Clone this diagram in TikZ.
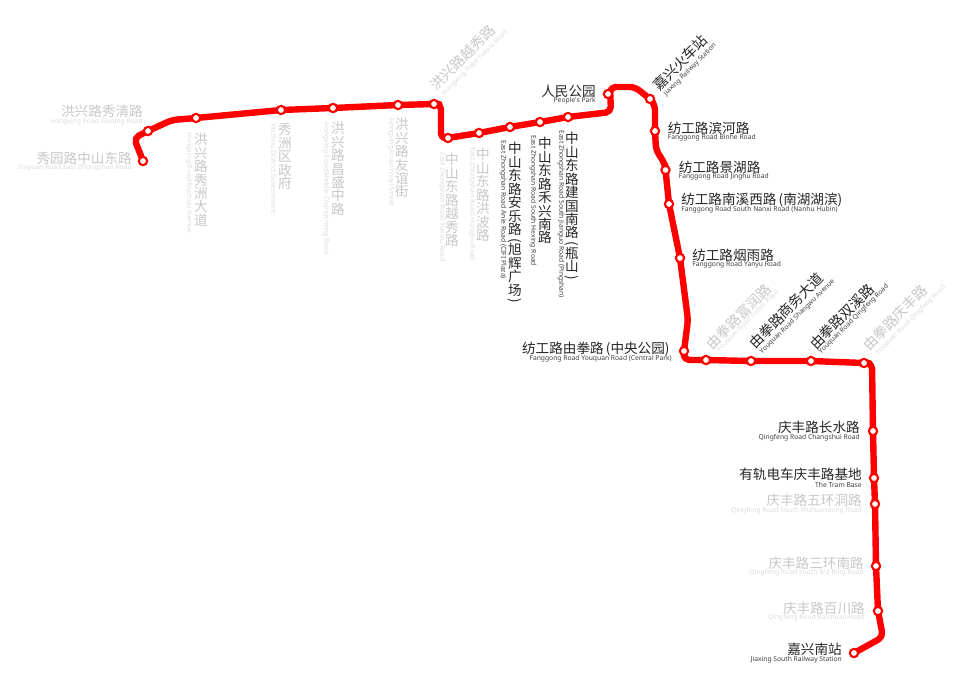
\documentclass[tikz,border=0pt]{standalone}
\usepackage{fontspec}
\setmainfont{Noto Sans CJK SC}
\newfontfamily\enfont{Noto Sans}
\usetikzlibrary{backgrounds}
\definecolor{linered}{HTML}{FF0000}
\tikzstyle{stop}=[circle,fill=white,draw=linered,line width=1.6pt,minimum size=6.2pt,inner sep=0pt]
\tikzstyle{cn}=[inner sep=0pt,font=\fontsize{10.2}{10.2}\selectfont,text=black!85]
\tikzstyle{cnr}=[cn,rotate=45,anchor=west,font=\fontsize{10.6}{10.6}\selectfont]
\tikzstyle{en}=[inner sep=0pt,font=\enfont\fontsize{5.05}{5.5}\selectfont,text=black!75]
\tikzstyle{enr}=[en,rotate=45,anchor=west]
\tikzstyle{cnv}=[cn,align=center,anchor=north,font=\fontsize{10.2}{10.1}\selectfont]
\tikzstyle{env}=[en,rotate=-90,anchor=west]
\tikzstyle{off}=[text=black!22]
\tikzstyle{offen}=[text=black!14]
\newcommand{\lpar}{\makebox[0.5em][r]{(}}
\newcommand{\rpar}{\makebox[0.5em][l]{)}}
\newcommand{\vlpar}{\rotatebox[origin=c]{-90}{(}}
\newcommand{\vrpar}{\rotatebox[origin=c]{-90}{)}}

\begin{document}
\begin{tikzpicture}[x=0.75pt,y=-0.75pt]
	\useasboundingbox (0,0) rectangle (960,686);
	% stations
	\node[stop] (s1) at (143,161) {};
	\node[stop] (s2) at (148,131) {};
	\node[stop] (s3) at (196,118) {};
	\node[stop] (s4) at (281,110) {};
	\node[stop] (s5) at (333,108) {};
	\node[stop] (s6) at (398,105) {};
	\node[stop] (s7) at (434,104) {};
	\node[stop] (s8) at (448,138) {};
	\node[stop] (s9) at (479,133) {};
	\node[stop] (s10) at (510,127) {};
	\node[stop] (s11) at (540,122) {};
	\node[stop] (s12) at (568,117) {};
	\node[stop] (s13) at (608,94) {};
	\node[stop] (s14) at (650,99) {};
	\node[stop] (s15) at (655,131) {};
	\node[stop] (s16) at (665.5,170) {};
	\node[stop] (s17) at (669,204) {};
	\node[stop] (s18) at (680,258) {};
	\node[stop] (s19) at (684,351) {};
	\node[stop] (s20) at (706,360) {};
	\node[stop] (s21) at (751,361) {};
	\node[stop] (s22) at (811,361) {};
	\node[stop] (s23) at (864,363) {};
	\node[stop] (s24) at (873,431) {};
	\node[stop] (s25) at (874,478) {};
	\node[stop] (s26) at (875,504) {};
	\node[stop] (s27) at (876,566) {};
	\node[stop] (s28) at (878,611) {};
	\node[stop] (s29) at (854,653) {};
	% bends of the line
	\coordinate (b1) at (134,138);
	\coordinate (b2) at (172,120);
	\coordinate (b3) at (441,104);
	\coordinate (b4) at (441,139);
	\coordinate (b5) at (611,112);
	\coordinate (b6) at (610,87);
	\coordinate (b7) at (635,87);
	\coordinate (b8) at (655,105);
	\coordinate (b9) at (656,150);
	\coordinate (b10) at (665,164);
	\coordinate (b11) at (688,320);
	\coordinate (b12) at (684,360);
	\coordinate (b13) at (872,363);
	\coordinate (b14) at (883,637);
	\begin{scope}[on background layer]
		\draw[linered,line width=4.8pt,rounded corners=4pt,line join=round] (s1.center) -- (b1) -- (s2.center) -- (b2)
			-- (s3.center) -- (s4.center) -- (s5.center) -- (s6.center) -- (s7.center) -- (b3) -- (b4)
			-- (s9.center) -- (s10.center) -- (s11.center) -- (s12.center) -- (b5) -- (b6) -- (b7)
			-- (s14.center) -- (b8) -- (s15.center) -- (b9) -- (b10) -- (s16.center) -- (s17.center)
			-- (s18.center) -- (b11) -- (s19.center) -- (b12) -- (s20.center) -- (s21.center) -- (s22.center)
			-- (s23.center) -- (b13) -- (s24.center) -- (s25.center) -- (s26.center) -- (s27.center)
			-- (s28.center) -- (b14) -- (s29.center);
	\end{scope}
	% labels, left of the line
	\node[cn,off,anchor=east] (c2) at (143,111) {洪兴路秀清路};
	\node[en,offen,anchor=east] (e2) at (143,122) {Hongxing Road Xiuqing Road};
	\node[cn,off,anchor=east] (c1) at (132,158) {秀园路中山东路};
	\node[en,offen,anchor=east] (e1) at (132,168) {Xiuyuan Road East Zhongshan Road};
	\node[cn,anchor=east] (c13) at (596,91) {人民公园};
	\node[en,anchor=east] (e13) at (596,101) {People's Park};
	\node[cn,anchor=east] (c19) at (672,349) {纺工路由拳路\lpar 中央公园\rpar};
	\node[en,anchor=east] (e19) at (672,359) {Fanggong Road Youquan Road (Central Park)};
	\node[cn,anchor=east] (c24) at (860,427) {庆丰路长水路};
	\node[en,anchor=east] (e24) at (860,438) {Qingfeng Road Changshui Road};
	\node[cn,anchor=east] (c25) at (862,474) {有轨电车庆丰路基地};
	\node[en,anchor=east] (e25) at (862,484.5) {The Tram Base};
	\node[cn,off,anchor=east] (c26) at (862,500) {庆丰路五环洞路};
	\node[en,offen,anchor=east] (e26) at (862,511) {Qingfeng Road South Wuhuandong Road};
	\node[cn,off,anchor=east] (c27) at (864,563) {庆丰路三环南路};
	\node[en,offen,anchor=east] (e27) at (864,573) {Qingfeng Road South 3rd Ring Road};
	\node[cn,off,anchor=east] (c28) at (865,608) {庆丰路百川路};
	\node[en,offen,anchor=east] (e28) at (865,618) {Qingfeng Road Baichuan Road};
	\node[cn,anchor=east] (c29) at (842,649) {嘉兴南站};
	\node[en,anchor=east] (e29) at (842,660) {Jiaxing South Railway Station};
	% labels, right of the line
	\node[cn,anchor=west] (c15) at (667.5,128) {纺工路滨河路};
	\node[en,anchor=west] (e15) at (667.5,138) {Fanggong Road Binhe Road};
	\node[cn,anchor=west] (c16) at (678.5,167) {纺工路景湖路};
	\node[en,anchor=west] (e16) at (678.5,177) {Fanggong Road Jinghu Road};
	\node[cn,anchor=west] (c17) at (681,200) {纺工路南溪西路\lpar 南湖湖滨\rpar};
	\node[en,anchor=west] (e17) at (681,210) {Fanggong Road South Nanxi Road (Nanhu Hubin)};
	\node[cn,anchor=west] (c18) at (692,255) {纺工路烟雨路};
	\node[en,anchor=west] (e18) at (692,265) {Fanggong Road Yanyu Road};
	% labels, upright
	\node[cnv,off] (c3) at (201,133) {洪\\兴\\路\\秀\\洲\\大\\道};
	\node[env,offen] (e3) at (189,132) {Hongxing Road Xiuzhou Avenue};
	\node[cnv,off] (c4) at (285,123) {秀\\洲\\区\\政\\府};
	\node[env,offen] (e4) at (274,123) {Xiuzhou District Government};
	\node[cnv,off] (c5) at (338,122) {洪\\兴\\路\\昌\\盛\\中\\路};
	\node[env,offen] (e5) at (326,122) {Hongxing Road Middle Changsheng Road};
	\node[cnv,off] (c6) at (402,118) {洪\\兴\\路\\友\\谊\\街};
	\node[env,offen] (e6) at (391,118) {Hongxing Road Youyi Street};
	\node[cnv,off] (c8) at (452,153) {中\\山\\东\\路\\越\\秀\\路};
	\node[env,offen] (e8) at (442,152) {East Zhongshan Road Yuexiu Road};
	\node[cnv,off] (c9) at (483,148) {中\\山\\东\\路\\洪\\波\\路};
	\node[env,offen] (e9) at (472,147) {East Zhongshan Road Hongbo Road};
	\node[cnv] (c10) at (515,142) {中\\山\\东\\路\\安\\乐\\路\\[-2.5pt]\vlpar\\[-2.5pt]旭\\辉\\广\\场\\[-2.5pt]\vrpar};
	\node[env] (e10) at (503,140) {East Zhongshan Road Anle Road (CIFI Plaza)};
	\node[cnv] (c11) at (545,137) {中\\山\\东\\路\\禾\\兴\\南\\路};
	\node[env] (e11) at (533,135) {East Zhongshan Road South Hexing Road};
	\node[cnv] (c12) at (572,132) {中\\山\\东\\路\\建\\国\\南\\路\\[-2.5pt]\vlpar\\[-2.5pt]瓶\\山\\[-2.5pt]\vrpar};
	\node[env] (e12) at (561,130) {East Zhongshan Road South Jianguo Road (Pingshan)};
	% labels, slanted
	\node[cnr,off] (c7) at (433,88) {洪兴路越秀路};
	\node[enr,offen] (e7) at (443,95) {Hongxing Road Yuexiu Road};
	\node[cnr] (c14) at (655,88) {嘉兴火车站};
	\node[enr] (e14) at (665,95) {Jiaxing Railway Station};
	\node[cnr,off] (c20) at (708,347) {由拳路富润路};
	\node[enr,offen] (e20) at (718,351) {Youquan Road Furun Road};
	\node[cnr] (c21) at (751,346) {由拳路商务大道};
	\node[enr] (e21) at (761,353) {Youquan Road Shangwu Avenue};
	\node[cnr] (c22) at (812,347) {由拳路双溪路};
	\node[enr] (e22) at (820,353) {Youquan Road Qingfeng Road};
	\node[cnr,off] (c23) at (865,348) {由拳路庆丰路};
	\node[enr,offen] (e23) at (877,354) {Youquan Road Qingfeng Road};
\end{tikzpicture}
\end{document}
